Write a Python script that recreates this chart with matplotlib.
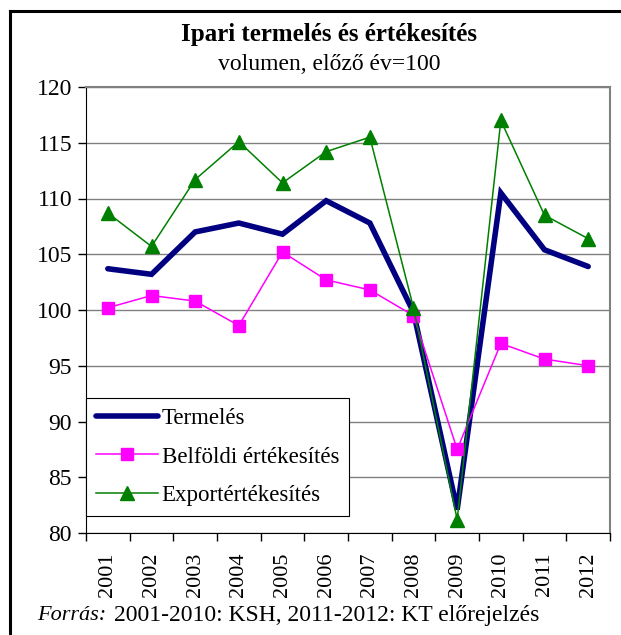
import matplotlib
matplotlib.use('Agg')
import matplotlib.pyplot as plt
from matplotlib.lines import Line2D
import numpy as np

plt.rcParams['font.family'] = ['Liberation Serif', 'DejaVu Serif']

# adatok (előző év = 100)
years = ['2001', '2002', '2003', '2004', '2005', '2006',
         '2007', '2008', '2009', '2010', '2011', '2012']
termeles = [103.7, 103.2, 107.0, 107.8, 106.8, 109.8, 107.8, 99.8, 82.1, 110.5, 105.4, 103.9]
belfoldi = [100.2, 101.3, 100.8, 98.6, 105.2, 102.7, 101.8, 99.5, 87.5, 97.0, 95.6, 95.0]
export = [108.7, 105.7, 111.7, 115.1, 111.4, 114.2, 115.5, 100.2, 81.2, 117.0, 108.5, 106.4]
y_ticks = [80, 85, 90, 95, 100, 105, 110, 115, 120]

fig = plt.figure(figsize=(6.21, 6.35), dpi=100)
ax = fig.add_axes([86 / 621, 1 - 533 / 635, (610 - 86) / 621, (533 - 87) / 635])

x = np.arange(len(years))
ax.plot(x, termeles, color='#000080', lw=4.0, solid_capstyle='round',
        solid_joinstyle='miter', label='Termelés', zorder=3)
ax.plot(x, belfoldi, color='#FF00FF', lw=1.1, marker='s', ms=8,
        label='Belföldi értékesítés', zorder=4)
ax.plot(x, export, color='#008000', lw=1.1, marker='^', ms=9.5,
        label='Exportértékesítés', zorder=5)

ax.set_xlim(-0.5, len(years) - 0.5)
ax.set_ylim(80, 120)
ax.set_yticks(y_ticks)
ax.set_yticklabels([str(v) for v in y_ticks], fontsize=17)
ax.yaxis.grid(True, color='#808080', lw=1.0)
ax.set_axisbelow(True)

# x tengely: kategóriák, osztásjelek a határokon
ax.set_xticks(x)
ax.set_xticklabels(years, rotation=90, fontsize=16)
ax.tick_params(axis='x', length=0, pad=14)
ax.set_xticks(np.arange(-0.5, len(years)), minor=True)
ax.tick_params(axis='x', which='minor', length=6, width=1, direction='out')
ax.tick_params(axis='y', length=6, width=1, direction='out', pad=4)

ax.spines['left'].set_color('black')
ax.spines['bottom'].set_color('black')
ax.spines['top'].set_color('#808080')
ax.spines['right'].set_color('#808080')
ax.spines['top'].set_linewidth(1.5)
ax.spines['right'].set_linewidth(1.5)

leg = ax.legend(loc='lower left', bbox_to_anchor=(0.0, 0.038), fontsize=16.5,
                frameon=True, fancybox=False, edgecolor='black', framealpha=1,
                borderpad=0.45, labelspacing=0.75, handlelength=2.7,
                handletextpad=0.15, borderaxespad=0)
leg.get_frame().set_linewidth(0.8)

fig.text(329 / 621, 1 - 34 / 635, 'Ipari termelés és értékesítés', ha='center',
         va='center', fontsize=18, fontweight='bold')
fig.text(329 / 621, 1 - 65 / 635, 'volumen, előző év=100', ha='center',
         va='center', fontsize=17)

fig.text(37 / 621, 1 - 616 / 635, 'Forrás:', ha='left', va='center',
         fontsize=16, style='italic')
fig.text(114 / 621, 1 - 616 / 635, '2001-2010: KSH, 2011-2012: KT előrejelzés',
         ha='left', va='center', fontsize=17)

# keret
fig.add_artist(Line2D([10 / 621, 10 / 621], [0, 1 - 11 / 635], color='black',
                      lw=2.2, transform=fig.transFigure))
fig.add_artist(Line2D([10 / 621, 1], [1 - 11 / 635, 1 - 11 / 635], color='black',
                      lw=2.2, transform=fig.transFigure))

fig.savefig('out.png', dpi=100)
